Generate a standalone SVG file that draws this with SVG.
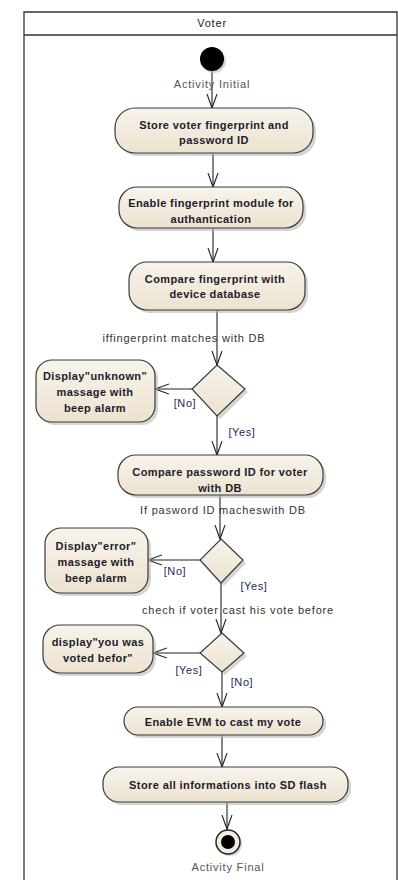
<svg xmlns="http://www.w3.org/2000/svg" width="398" height="896" viewBox="0 0 398 896">
<style>
.frame{fill:none;stroke:#333;stroke-width:1.3}
.act{fill:url(#g);stroke:#3a3a3a;stroke-width:1.2}
.sh{fill:#b8b8b8;opacity:0.6}
.t{font-family:"Liberation Sans",Arial,sans-serif;font-size:11px;letter-spacing:0.4px;font-weight:bold;fill:#1c1c2c;text-anchor:middle}
.lbl{font-family:"Liberation Sans",Arial,sans-serif;font-size:11px;letter-spacing:0.8px;fill:#333;text-anchor:middle}
.grd{font-family:"Liberation Sans",Arial,sans-serif;font-size:11px;letter-spacing:0.6px;fill:#1c2a55;text-anchor:middle}
.e{fill:none;stroke:#222;stroke-width:1.1;marker-end:url(#arr)}
.ttl{font-family:"Liberation Sans",Arial,sans-serif;font-size:11px;letter-spacing:0.8px;fill:#222;text-anchor:middle}
</style>
<defs>
<linearGradient id="g" x1="0" y1="0" x2="0" y2="1">
<stop offset="0" stop-color="#f8f4ec"/>
<stop offset="1" stop-color="#ece2cf"/>
</linearGradient>
<marker id="arr" markerUnits="userSpaceOnUse" markerWidth="16" markerHeight="12" refX="14" refY="6" orient="auto" viewBox="0 0 16 12">
<path d="M0,1 L14,6 L0,11" fill="none" stroke="#222" stroke-width="1.1"/>
</marker>
</defs>
<rect x="0" y="0" width="398" height="896" fill="#fff"/>
<g id="partition">
<path class="frame" d="M24,880 V12 H397 V880"/>
<line class="frame" x1="24" y1="35" x2="397" y2="35"/>
<text class="ttl" x="212" y="27">Voter</text>
</g>
<g id="connectors">
<line class="e" x1="212" y1="71" x2="212" y2="108"/>
<line class="e" x1="213" y1="153" x2="213" y2="187"/>
<line class="e" x1="213" y1="228" x2="213" y2="262"/>
<line class="e" x1="217" y1="310" x2="217" y2="365"/>
<line class="e" x1="192" y1="389" x2="155" y2="389"/>
<line class="e" x1="217" y1="416" x2="217" y2="455"/>
<line class="e" x1="220" y1="495" x2="220" y2="539"/>
<line class="e" x1="200" y1="560" x2="148" y2="560"/>
<line class="e" x1="221" y1="583" x2="221" y2="633"/>
<line class="e" x1="200" y1="653" x2="153" y2="653"/>
<line class="e" x1="222" y1="672" x2="222" y2="707"/>
<line class="e" x1="222" y1="735" x2="222" y2="767"/>
<line class="e" x1="227" y1="802" x2="227" y2="829"/>
<text class="lbl" x="212" y="88" style="fill:#555">Activity Initial</text>
<text class="lbl" x="184" y="342">iffingerprint matches with DB</text>
<text class="grd" x="185" y="407">[No]</text>
<text class="grd" x="242" y="436">[Yes]</text>
<text class="lbl" x="223" y="514">If pasword ID macheswith DB</text>
<text class="grd" x="175" y="575">[No]</text>
<text class="grd" x="254" y="590">[Yes]</text>
<text class="lbl" x="238" y="614">chech if voter cast his vote before</text>
<text class="grd" x="189" y="674">[Yes]</text>
<text class="grd" x="242" y="686">[No]</text>
</g>
<g id="initial">
<circle cx="214" cy="61" r="12" fill="#bbb" opacity="0.6"/>
<circle cx="212" cy="59" r="12" fill="#000"/>
</g>
<g id="n1">
<rect class="sh" x="118" y="111" width="198" height="45" rx="20"/>
<rect class="act" x="115" y="108" width="198" height="45" rx="20"/>
<text class="t" x="214" y="129">Store voter fingerprint and</text>
<text class="t" x="214" y="144">password ID</text>
</g>
<g id="n2">
<rect class="sh" x="122" y="190" width="184" height="41" rx="18"/>
<rect class="act" x="119" y="187" width="184" height="41" rx="18"/>
<text class="t" x="211" y="207">Enable fingerprint module for</text>
<text class="t" x="211" y="223">authantication</text>
</g>
<g id="n3">
<rect class="sh" x="132" y="265" width="176" height="48" rx="18"/>
<rect class="act" x="129" y="262" width="176" height="48" rx="18"/>
<text class="t" x="215" y="283">Compare fingerprint with</text>
<text class="t" x="215" y="298">device database</text>
</g>
<g id="d1">
<polygon class="sh" points="220,368 248,392 220,419 195,392"/>
<polygon class="act" points="217,365 245,389 217,416 192,389"/>
</g>
<g id="n_unknown">
<rect class="sh" x="39" y="363" width="119" height="62" rx="16"/>
<rect class="act" x="36" y="360" width="119" height="62" rx="16"/>
<text class="t" x="95" y="380">Display"unknown"</text>
<text class="t" x="95" y="396">massage with</text>
<text class="t" x="95" y="412">beep alarm</text>
</g>
<g id="n4">
<rect class="sh" x="121" y="458" width="205" height="40" rx="18"/>
<rect class="act" x="118" y="455" width="205" height="40" rx="18"/>
<text class="t" x="220" y="476">Compare password ID for voter</text>
<text class="t" x="220" y="492">with DB</text>
</g>
<g id="d2">
<polygon class="sh" points="224,542 246,563 224,586 203,563"/>
<polygon class="act" points="221,539 243,560 221,583 200,560"/>
</g>
<g id="n_error">
<rect class="sh" x="48" y="531" width="103" height="65" rx="16"/>
<rect class="act" x="45" y="528" width="103" height="65" rx="16"/>
<text class="t" x="96" y="550">Display"error"</text>
<text class="t" x="96" y="566">massage with</text>
<text class="t" x="96" y="582">beep alarm</text>
</g>
<g id="d3">
<polygon class="sh" points="225,636 247,656 225,675 203,656"/>
<polygon class="act" points="222,633 244,653 222,672 200,653"/>
</g>
<g id="n_voted">
<rect class="sh" x="46" y="628" width="110" height="48" rx="17"/>
<rect class="act" x="43" y="625" width="110" height="48" rx="17"/>
<text class="t" x="98" y="646">display"you was</text>
<text class="t" x="98" y="662">voted befor"</text>
</g>
<g id="n5">
<rect class="sh" x="127" y="710" width="199" height="28" rx="14"/>
<rect class="act" x="124" y="707" width="199" height="28" rx="14"/>
<text class="t" x="223" y="726">Enable EVM to cast my vote</text>
</g>
<g id="n6">
<rect class="sh" x="106" y="770" width="245" height="35" rx="16"/>
<rect class="act" x="103" y="767" width="245" height="35" rx="16"/>
<text class="t" x="228" y="789">Store all informations into SD flash</text>
</g>
<g id="final">
<circle cx="230" cy="844" r="12" fill="#bbb" opacity="0.6"/>
<circle cx="228" cy="842" r="12" fill="#f3ede2" stroke="#222" stroke-width="1.5"/>
<circle cx="228" cy="842" r="7" fill="#000"/>
<text class="lbl" x="228" y="871" style="fill:#555">Activity Final</text>
</g>
</svg>
